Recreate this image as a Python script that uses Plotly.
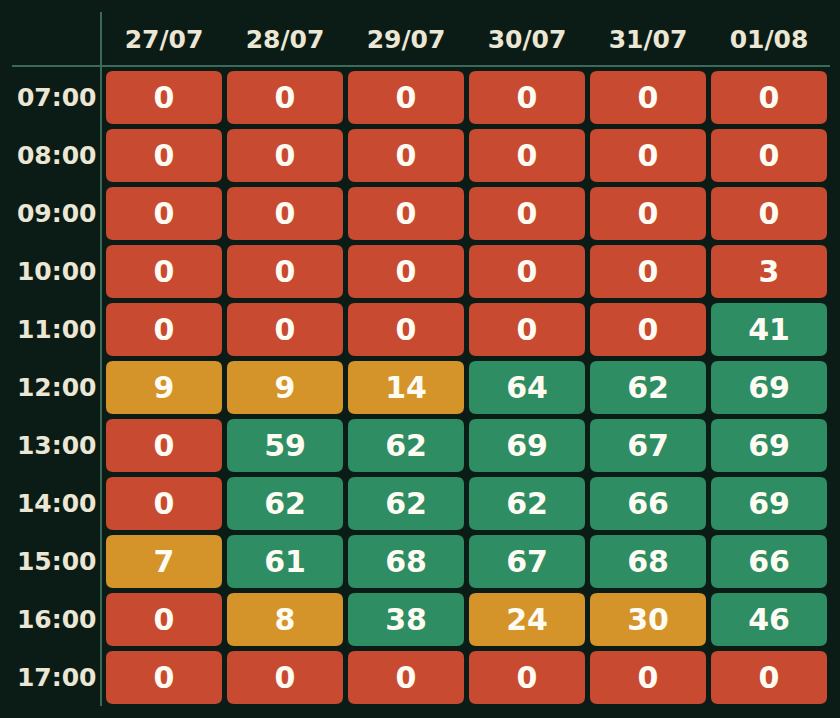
import plotly.graph_objects as go

dates = ["27/07", "28/07", "29/07", "30/07", "31/07", "01/08"]
hours = ["07:00", "08:00", "09:00", "10:00", "11:00", "12:00",
         "13:00", "14:00", "15:00", "16:00", "17:00"]
# values[row][col]
values = [
    [0, 0, 0, 0, 0, 0],
    [0, 0, 0, 0, 0, 0],
    [0, 0, 0, 0, 0, 0],
    [0, 0, 0, 0, 0, 3],
    [0, 0, 0, 0, 0, 41],
    [9, 9, 14, 64, 62, 69],
    [0, 59, 62, 69, 67, 69],
    [0, 62, 62, 62, 66, 69],
    [7, 61, 68, 67, 68, 66],
    [0, 8, 38, 24, 30, 46],
    [0, 0, 0, 0, 0, 0],
]

BG = "#0b1c17"
RED = "#c84b31"
AMBER = "#d4942a"
GREEN = "#2e8d63"
LINE = "#3b6b58"
LABEL = "#ece7d4"
CELLTXT = "#fdfbf2"


def color_for(v):
    if v < 5:
        return RED
    if v < 35:
        return AMBER
    return GREEN


PX_X = 121.0
PX_Y = 58.0
x0_px, y0_px = 164.0, 97.5
W, H = 840, 718
xr = [-x0_px / PX_X, (W - x0_px) / PX_X]
yr = [(H - y0_px) / PX_Y, -y0_px / PX_Y]

half_w = 116 / 2 / PX_X
half_h = 53 / 2 / PX_Y
r_px = 7.0
rx = r_px / PX_X
ry = r_px / PX_Y
TXT_DY = 2.5 / PX_Y  # small downward nudge for text baseline centering


def rounded(cx, cy):
    x1, x2 = cx - half_w, cx + half_w
    y1, y2 = cy - half_h, cy + half_h
    return (f"M {x1+rx},{y1} L {x2-rx},{y1} Q {x2},{y1} {x2},{y1+ry} "
            f"L {x2},{y2-ry} Q {x2},{y2} {x2-rx},{y2} "
            f"L {x1+rx},{y2} Q {x1},{y2} {x1},{y2-ry} "
            f"L {x1},{y1+ry} Q {x1},{y1} {x1+rx},{y1} Z")


shapes = []
tx, ty, tt = [], [], []
for i, h in enumerate(hours):
    for j, d in enumerate(dates):
        v = values[i][j]
        shapes.append(dict(type="path", path=rounded(j, i), xref="x", yref="y",
                           fillcolor=color_for(v), line=dict(width=0), layer="below"))
        tx.append(j)
        ty.append(i + TXT_DY)
        tt.append(str(v))

shapes.append(dict(type="line", xref="x", yref="y",
                   x0=(101 - x0_px) / PX_X, x1=(101 - x0_px) / PX_X,
                   y0=(12 - y0_px) / PX_Y, y1=(706 - y0_px) / PX_Y,
                   line=dict(color=LINE, width=2)))
shapes.append(dict(type="line", xref="x", yref="y",
                   x0=(12 - x0_px) / PX_X, x1=(830 - x0_px) / PX_X,
                   y0=(66 - y0_px) / PX_Y, y1=(66 - y0_px) / PX_Y,
                   line=dict(color=LINE, width=2)))

fig = go.Figure()
fig.add_trace(go.Scatter(
    x=tx, y=ty, text=tt, mode="text",
    textfont=dict(family="DejaVu Sans", size=30, color=CELLTXT, weight="bold"),
    hoverinfo="skip", showlegend=False))
fig.add_trace(go.Scatter(
    x=list(range(len(dates))), y=[(41.5 - y0_px) / PX_Y] * len(dates), text=dates,
    mode="text", textfont=dict(family="DejaVu Sans", size=25, color=LABEL, weight="bold"),
    hoverinfo="skip", showlegend=False))
fig.add_trace(go.Scatter(
    x=[(96.5 - x0_px) / PX_X] * len(hours), y=[i + TXT_DY for i in range(len(hours))], text=hours,
    mode="text", textposition="middle left",
    textfont=dict(family="DejaVu Sans", size=25, color=LABEL, weight="bold"),
    hoverinfo="skip", showlegend=False))

fig.update_layout(
    width=W, height=H,
    margin=dict(l=0, r=0, t=0, b=0),
    paper_bgcolor=BG, plot_bgcolor=BG,
    shapes=shapes,
    xaxis=dict(range=xr, visible=False, fixedrange=True),
    yaxis=dict(range=yr, visible=False, fixedrange=True),
)

fig.write_html("out.html", config={"displayModeBar": False},
               post_script="document.body.style.margin='0';document.body.style.background='%s';" % BG)
